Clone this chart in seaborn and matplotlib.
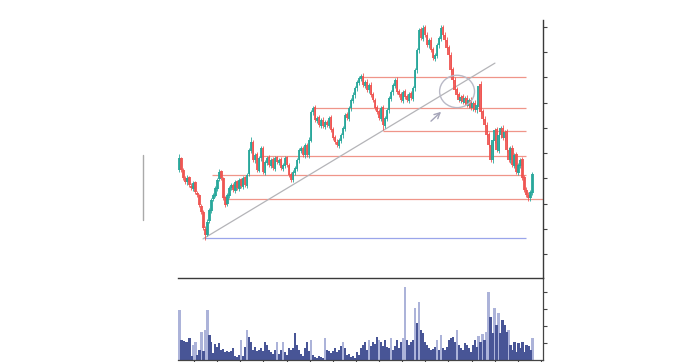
import numpy as np
import pandas as pd
import seaborn as sns
import matplotlib
matplotlib.use("Agg")
import matplotlib.pyplot as plt
from matplotlib.patches import Ellipse

sns.set_style("white")

opens = [43.3,47.9,43.5,40.0,38.4,40.5,37.2,36.0,38.5,34.4,33.6,29.2,26.9,20.2,17.8,23.0,27.2,31.8,33.2,36.0,
         39.6,42.8,40.0,32.5,29.8,33.2,36.4,37.6,35.2,38.8,36.0,39.6,36.8,40.4,37.2,41.6,51.0,54.6,47.1,49.5,
         43.1,47.9,52.2,42.3,46.3,48.3,45.1,47.5,43.9,48.3,46.3,47.5,43.9,45.1,48.3,45.5,41.6,39.2,42.3,43.9,
         47.1,51.0,52.2,49.1,53.4,49.1,55.0,66.1,68.1,62.9,64.1,60.9,63.3,60.5,62.5,60.9,64.1,59.4,56.2,54.6,
         53.0,55.0,57.0,59.7,65.3,63.7,67.7,70.8,72.8,75.6,77.9,79.5,80.7,76.7,78.3,74.8,77.1,73.2,71.2,68.1,
         66.5,63.7,68.1,60.9,63.7,66.9,71.6,74.0,76.7,79.1,74.4,73.2,70.8,74.4,72.4,70.8,73.6,71.6,75.6,82.7,
         90.6,98.9,95.3,99.7,96.9,92.6,94.9,91.0,87.4,88.6,92.6,95.3,99.7,96.9,94.9,91.8,89.0,83.1,79.1,75.2,
         73.2,70.8,72.4,70.0,72.0,68.8,71.2,67.7,70.0,66.9,68.2,77.5,66.5,63.7,61.3,57.4,53.4,47.1,55.0,59.4,
         51.0,57.0,60.1,55.8,58.6,51.4,47.1,52.2,45.1,49.5,42.3,45.1,47.5,40.4,35.6,33.6,32.1,34.4]
closes = [48.1,43.3,40.2,38.6,40.2,37.4,36.2,38.2,34.6,33.4,29.5,26.7,20.4,17.6,22.8,27.5,31.5,33.4,36.2,39.4,
          42.5,40.2,32.3,29.5,33.4,36.2,37.4,35.4,38.6,36.2,39.4,37.0,40.2,37.4,41.4,51.2,54.4,47.3,49.3,43.3,
          48.1,52.0,42.5,46.5,48.1,45.3,47.3,44.1,48.1,46.5,47.3,44.1,45.3,48.1,45.3,41.4,39.4,42.5,44.1,47.3,
          51.2,52.0,49.3,53.2,49.3,55.2,66.3,67.9,63.1,63.9,61.1,63.1,60.7,62.3,61.1,63.9,59.2,56.0,54.4,53.2,
          55.2,57.2,59.9,65.1,63.9,67.9,71.0,73.0,75.8,78.1,79.7,80.5,76.9,78.1,75.0,76.9,73.0,71.0,67.9,66.3,
          63.9,67.9,61.1,63.9,67.1,71.8,74.2,76.9,78.9,74.2,73.0,71.0,74.2,72.2,71.0,73.4,71.8,75.8,82.9,90.8,
          98.7,95.5,99.5,96.7,92.8,94.7,90.8,87.6,88.8,92.8,95.5,99.5,96.7,94.7,91.6,88.8,82.9,78.9,75.0,73.0,
          71.0,72.2,70.2,71.8,69.0,71.0,67.9,69.8,67.1,69.0,76.5,66.3,63.5,61.1,57.2,53.2,47.3,55.2,59.2,51.2,
          57.2,59.9,56.0,58.4,51.2,47.3,52.0,45.3,49.3,42.5,45.3,47.3,40.2,35.4,33.4,32.3,34.6,41.8]
highs = [49.5,48.6,44.2,41.0,41.2,41.0,38.0,39.0,39.0,35.2,34.0,30.0,27.5,21.0,23.8,28.3,32.3,34.4,37.0,40.3,
         43.6,43.4,40.6,33.0,34.4,37.0,38.3,38.2,39.5,39.5,40.2,40.3,41.0,41.1,42.2,52.0,56.5,55.3,50.2,50.3,
         49.0,53.0,53.0,47.4,49.0,49.1,48.2,48.3,49.0,49.0,48.2,48.3,46.2,49.0,49.0,46.3,42.4,43.4,45.0,48.2,
         52.1,53.0,53.0,54.1,54.2,56.2,67.2,68.8,68.9,64.8,65.0,64.0,64.2,63.2,63.3,64.8,65.0,60.3,57.0,55.6,
         56.1,58.1,60.8,66.0,66.2,68.8,71.9,74.0,76.7,79.0,80.6,81.4,81.5,79.0,79.2,77.8,78.0,74.0,72.0,69.0,
         67.4,68.8,69.0,64.8,68.0,72.7,75.1,77.8,79.8,80.0,75.3,74.0,75.1,75.3,73.3,74.3,74.5,76.7,83.8,91.7,
         99.6,99.8,100.6,100.8,97.8,95.6,95.8,91.9,89.7,93.7,96.4,100.6,100.8,97.8,95.8,92.7,89.9,84.0,80.0,76.1,
         74.1,73.1,73.3,72.7,73.0,71.9,72.1,70.7,71.0,69.9,77.4,78.6,67.4,64.6,62.2,58.3,54.3,56.1,60.1,60.3,
         58.1,60.8,61.0,59.3,59.5,52.3,52.9,53.1,50.2,50.4,46.2,48.2,48.4,41.3,36.5,34.5,35.5,42.7]
lows = [42.4,42.6,39.3,37.8,37.6,36.5,35.3,35.2,33.8,32.6,28.7,25.8,19.5,15.8,17.2,22.2,26.5,30.9,32.5,35.2,
        38.8,39.4,31.4,28.6,29.0,32.4,35.5,34.6,34.4,35.3,35.2,36.2,36.0,36.5,36.4,40.8,50.2,46.5,46.3,42.5,
        42.4,47.0,41.6,41.5,45.4,44.5,44.3,43.3,43.0,45.6,45.5,43.2,43.0,44.3,44.4,40.5,38.5,38.4,41.5,43.0,
        46.3,50.1,48.4,48.2,48.4,48.2,54.3,65.2,62.2,62.0,60.2,60.0,59.8,59.6,60.2,60.0,58.3,55.1,53.5,52.3,
        52.1,54.1,56.0,58.8,63.0,62.8,66.8,69.9,71.9,74.7,77.0,78.6,76.0,75.8,74.1,73.9,72.1,70.1,67.0,65.4,
        63.0,62.8,59.0,60.0,62.8,66.0,70.7,73.1,75.8,73.3,72.1,70.1,70.0,71.3,70.1,70.0,70.9,70.7,74.7,81.8,
        89.7,94.6,94.4,95.8,91.9,91.7,89.9,86.7,86.5,87.7,91.7,94.4,95.8,93.8,90.7,87.9,82.0,77.9,74.1,72.1,
        70.1,69.9,69.3,69.1,68.1,68.0,67.0,66.8,66.2,66.0,67.3,65.4,62.6,60.2,56.3,52.3,46.4,46.2,54.1,50.3,
        50.1,56.1,55.1,54.9,50.3,46.4,46.2,44.4,44.2,41.6,41.4,44.2,39.3,34.5,32.5,31.0,31.2,33.5]
volumes = [29.4,11.8,11.2,10.6,10.6,12.9,2.4,8.8,10.6,2.9,5.9,16.5,5.3,17.6,29.4,14.7,10.6,4.1,9.4,7.6,
           10.0,5.9,6.5,4.7,5.3,4.7,5.3,7.1,2.4,1.8,2.9,11.8,2.4,7.6,17.6,13.5,10.6,5.9,7.6,5.3,
           5.9,7.1,5.3,10.6,8.8,5.9,4.7,3.5,5.9,10.6,3.5,5.9,10.6,4.7,2.9,7.1,5.9,7.1,15.9,8.8,
           5.9,3.5,2.4,7.1,10.6,5.3,11.8,2.9,1.8,1.2,2.4,1.8,1.2,12.9,5.9,5.3,4.1,5.3,7.1,4.7,
           5.9,8.2,10.6,7.1,2.9,3.5,1.8,2.4,1.2,4.7,2.9,7.1,8.8,10.6,5.9,11.8,8.2,10.6,9.4,13.5,
           11.8,10.6,8.2,11.8,7.6,7.1,12.9,5.9,8.2,11.8,7.1,10.6,12.9,42.9,11.8,8.8,10.6,11.8,30.6,21.8,
           34.1,17.6,15.9,10.6,8.8,7.1,5.9,6.5,7.6,11.8,5.9,14.7,7.1,5.9,7.6,11.8,12.9,13.5,10.6,17.6,
           8.8,7.1,5.9,10.0,8.8,7.1,4.7,8.8,11.8,7.6,14.1,10.6,15.3,11.8,16.5,40.0,25.3,15.9,30.6,20.6,
           27.6,15.9,23.5,20.6,16.5,17.6,8.8,5.9,10.6,4.7,10.0,7.1,10.6,4.7,8.8,8.2,5.9,12.9]
shades = ["light","dark","dark","dark","dark","dark","dark","light","light","dark","dark","light","dark","light","light","dark","dark","dark","dark","dark",
          "dark","dark","dark","dark","dark","dark","dark","dark","dark","dark","dark","light","dark","dark","light","dark","dark","dark","dark","dark",
          "dark","dark","dark","dark","dark","dark","dark","dark","dark","light","dark","dark","light","dark","dark","dark","dark","dark","dark","dark",
          "dark","dark","dark","dark","dark","dark","light","dark","dark","dark","dark","dark","dark","light","dark","dark","dark","dark","dark","dark",
          "dark","dark","light","dark","dark","dark","dark","dark","dark","dark","dark","dark","dark","dark","dark","light","dark","dark","dark","dark",
          "light","dark","dark","dark","dark","dark","light","dark","dark","dark","dark","dark","light","light","dark","dark","dark","dark","light","dark",
          "light","dark","dark","dark","dark","dark","dark","dark","dark","light","dark","light","dark","dark","dark","dark","dark","dark","dark","light",
          "dark","dark","dark","dark","dark","dark","dark","dark","dark","dark","light","dark","light","dark","light","light","dark","dark","light","dark",
          "light","dark","dark","dark","dark","light","dark","dark","dark","dark","dark","dark","dark","dark","dark","dark","dark","light"]

# annotation levels (price units)
level_support = 16.45
levels_red = [31.7, 41.2, 48.9, 58.8, 67.7, 80.2]
level_starts = [22.8, 16.3, 40.4, 102.0, 67.0, 90.5]

n = len(closes)
idx = np.arange(n)
df = pd.DataFrame({"i": idx, "open": opens, "close": closes, "high": highs,
                   "low": lows, "volume": volumes, "shade": shades})

W, H = 688, 362
fig = plt.figure(figsize=(W / 100, H / 100), dpi=100)
axv = fig.add_axes([178 / W, (H - 360) / H, (543 - 178) / W, (360 - 278) / H])
ax = fig.add_axes([178 / W, (H - 278) / H, (543 - 178) / W, (278 - 20) / H])

green, red = "#26a69a", "#ef5350"
up = df["close"] >= df["open"]
cols = np.where(up, green, red)
ax.vlines(df["i"], df["low"], df["high"], colors=cols, lw=0.7, alpha=0.85, zorder=2)
body_bottom = np.minimum(df["open"], df["close"])
body_h = np.maximum(np.abs(df["close"] - df["open"]), 0.3)
ax.bar(df["i"], body_h, bottom=body_bottom, width=1.2, color=cols, lw=0, alpha=0.9, zorder=3)

xmin, xmax = -0.75, 182.3
ax.set_xlim(xmin, xmax)
ax.set_ylim(0.63, 102.65)

# levels
ax.hlines(level_support, 12.3, 173.8, color="#9aa5ea", lw=0.9, zorder=1)
for lv, st in zip(levels_red, level_starts):
    end = xmax if lv == levels_red[0] else 173.8
    ax.hlines(lv, st, end, color="#ee8a7c", lw=0.9, alpha=0.9, zorder=1)
# trend line
ax.plot([11.8, 158.2], [16.1, 85.6], color="#b4b4b8", lw=0.9, zorder=1)
# circle
ax.add_patch(Ellipse((139.2, 74.4), 17.5, 12.8, fill=False, ec="#b9b9c6", lw=1.0, zorder=4))
# arrow
ax.annotate("", xy=(132.2, 67.1), xytext=(125.1, 61.9),
            arrowprops=dict(arrowstyle="->", color="#a4a4b8", lw=1.0))

ax.patch.set_alpha(0)
ax.yaxis.tick_right()
ax.set_yticks(np.arange(10, 101, 10))
ax.set_yticklabels([])
ax.set_xticks([])
ax.tick_params(axis="y", length=3, width=0.8, color="#444444", right=True, left=False)
for s in ["top", "left"]:
    ax.spines[s].set_visible(False)
for s in ["right", "bottom"]:
    ax.spines[s].set_color("#3a3a3a")
    ax.spines[s].set_linewidth(1.0)
    ax.spines[s].set_zorder(6)

# volume
sns.barplot(data=df, x="i", y="volume", hue="shade", native_scale=True, dodge=False,
            palette={"dark": "#3b4ca3", "light": "#a5aee0"}, width=1.1,
            linewidth=0, legend=False, ax=axv, zorder=2)
axv.set_xlim(xmin, xmax)
axv.set_ylim(0, 48.2)
axv.yaxis.tick_right()
axv.set_yticks([10, 20, 30, 40])
axv.set_yticklabels([])
axv.set_xticks(np.arange(7.3, 183, 11.6))
axv.set_xticklabels([])
axv.set_xlabel("")
axv.set_ylabel("")
axv.tick_params(axis="y", length=3, width=0.8, color="#444444", right=True, left=False)
axv.tick_params(axis="x", length=2, width=0.8, color="#444444", bottom=True)
for s in ["top", "left"]:
    axv.spines[s].set_visible(False)
for s in ["right", "bottom"]:
    axv.spines[s].set_color("#444444")
    axv.spines[s].set_linewidth(0.9)

# small vertical marker at the left
fig.add_artist(plt.Line2D([143 / W, 143 / W], [(H - 220) / H, (H - 155) / H],
                          color="#aaaaaa", lw=1.0))

fig.savefig("out.png", dpi=100)
